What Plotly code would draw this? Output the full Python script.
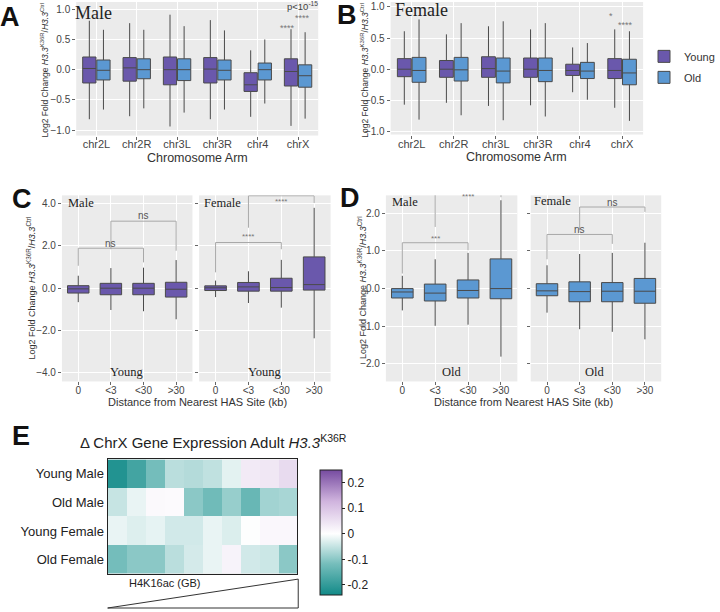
import plotly.graph_objects as go

# ---------------- DATA ----------------
chroms = ["chr2L", "chr2R", "chr3L", "chr3R", "chr4", "chrX"]

# Panel A (Male) box stats per chromosome arm
a_young_low = [-0.82, -0.77, -0.94, -0.82, -0.78, -0.93]
a_young_q1 = [-0.22, -0.19, -0.25, -0.22, -0.36, -0.27]
a_young_med = [0.02, 0.03, 0.00, 0.01, -0.25, -0.03]
a_young_q3 = [0.21, 0.20, 0.21, 0.20, -0.05, 0.18]
a_young_high = [0.81, 0.77, 0.91, 0.82, 0.32, 0.67]
a_old_low = [-0.66, -0.64, -0.71, -0.66, -0.56, -0.81]
a_old_q1 = [-0.17, -0.15, -0.18, -0.17, -0.17, -0.29]
a_old_med = [-0.01, 0.00, 0.00, -0.01, 0.00, -0.10]
a_old_q3 = [0.16, 0.18, 0.18, 0.16, 0.11, 0.08]
a_old_high = [0.66, 0.66, 0.72, 0.65, 0.50, 0.62]

# Panel B (Female)
b_young_low = [-0.57, -0.54, -0.59, -0.58, -0.37, -0.62]
b_young_q1 = [-0.12, -0.13, -0.13, -0.13, -0.10, -0.15]
b_young_med = [0.00, 0.00, 0.01, 0.00, -0.02, -0.02]
b_young_q3 = [0.17, 0.14, 0.20, 0.18, 0.08, 0.17]
b_young_high = [0.61, 0.56, 0.69, 0.64, 0.35, 0.64]
b_old_low = [-0.81, -0.74, -0.82, -0.76, -0.49, -0.83]
b_old_q1 = [-0.21, -0.19, -0.22, -0.20, -0.15, -0.25]
b_old_med = [-0.02, -0.01, -0.03, -0.02, -0.03, -0.06]
b_old_q3 = [0.19, 0.19, 0.18, 0.18, 0.11, 0.16]
b_old_high = [0.80, 0.74, 0.77, 0.74, 0.42, 0.61]

dist_cats = ["0", "<3", "<30", ">30"]

# Panel C (Young)
c_male_low = [-0.66, -1.03, -1.09, -1.47]
c_male_q1 = [-0.23, -0.31, -0.31, -0.42]
c_male_med = [-0.03, 0.00, 0.00, -0.05]
c_male_q3 = [0.12, 0.23, 0.23, 0.28]
c_male_high = [0.59, 0.95, 0.97, 1.33]
c_female_low = [-0.42, -0.70, -0.92, -2.37]
c_female_q1 = [-0.11, -0.14, -0.14, -0.09]
c_female_med = [0.02, 0.06, 0.03, 0.17]
c_female_q3 = [0.11, 0.27, 0.47, 1.48]
c_female_high = [0.36, 0.80, 1.34, 3.80]

# Panel D (Old)
d_male_low = [-0.58, -0.99, -0.96, -1.81]
d_male_q1 = [-0.25, -0.33, -0.25, -0.27]
d_male_med = [-0.09, -0.12, -0.05, 0.00]
d_male_q3 = [0.00, 0.12, 0.23, 0.79]
d_male_high = [0.34, 0.78, 0.95, 2.35]
d_female_low = [-0.64, -1.08, -1.15, -1.35]
d_female_q1 = [-0.19, -0.35, -0.35, -0.39]
d_female_med = [-0.06, -0.08, -0.07, -0.07]
d_female_q3 = [0.13, 0.18, 0.16, 0.27]
d_female_high = [0.62, 0.92, 0.95, 1.22]

# significance brackets: (left cat, right cat, left leg end, top, right leg end, label, label y)
c_male_brackets = [("0", "<30", 1.06, 1.89, 1.22, "ns", 2.12),
                   ("<3", ">30", 1.84, 3.17, 1.77, "ns", 3.42)]
c_female_brackets = [("0", "<30", 0.75, 2.16, 1.84, "****", 2.45),
                     ("<3", ">30", 2.86, 4.37, 4.03, "****", 4.12)]
d_male_brackets = [("0", "<30", 0.40, 1.22, 1.02, "***", 1.34),
                   ("<3", ">30", 1.64, 2.58, 2.43, "****", 2.46)]
d_female_brackets = [("0", "<30", 0.78, 1.44, 1.19, "ns", 1.57),
                     ("<3", ">30", 1.55, 2.17, 2.04, "ns", 2.30)]

# Panel E heatmap
heat_rows = ["Young Male", "Old Male", "Young Female", "Old Female"]
heat_bins = ["1", "2", "3", "4", "5", "6", "7", "8", "9", "10"]
heat_z = [
    [-0.22, -0.18, -0.12, -0.06, -0.065, -0.055, -0.025, 0.035, 0.04, 0.06],
    [-0.05, -0.02, 0.01, 0.008, -0.10, -0.125, -0.09, -0.135, -0.08, -0.075],
    [-0.02, -0.03, -0.022, -0.04, -0.04, -0.02, -0.032, -0.003, 0.012, 0.012],
    [-0.12, -0.10, -0.10, -0.06, -0.038, -0.02, 0.02, -0.04, -0.045, -0.10],
]
cbar_ticks = [-0.2, -0.1, 0, 0.1, 0.2]
cbar_ticktext = ["-0.2", "-0.1", "0", "0.1", "0.2"]

# ---------------- STYLE ----------------
FONT = "Liberation Sans, Arial, sans-serif"
SERIF = "Liberation Serif, Times New Roman, serif"
PURPLE = "#6A58AC"
BLUE = "#5B98D2"
BOX_LINE = "#4a4a4a"
PANEL_BG = "#EBEBEB"
W, H = 720, 612


def fx(p):
    return p / W


def fy(p):
    return 1 - p / H


fig = go.Figure()


def add_boxes(xs, low, q1, med, q3, high, color, name, xa, ya, showlegend):
    fig.add_trace(go.Box(
        x=xs, lowerfence=low, q1=q1, median=med, q3=q3, upperfence=high,
        name=name, fillcolor=color, marker=dict(color=color),
        line=dict(color=BOX_LINE, width=1), whiskerwidth=0, boxpoints=False,
        xaxis=xa, yaxis=ya, legendgroup=name, showlegend=showlegend,
        offsetgroup=name, hoverinfo="skip"))


add_boxes(chroms, a_young_low, a_young_q1, a_young_med, a_young_q3, a_young_high, PURPLE, "Young", "x", "y", True)
add_boxes(chroms, a_old_low, a_old_q1, a_old_med, a_old_q3, a_old_high, BLUE, "Old", "x", "y", True)
add_boxes(chroms, b_young_low, b_young_q1, b_young_med, b_young_q3, b_young_high, PURPLE, "Young", "x2", "y2", False)
add_boxes(chroms, b_old_low, b_old_q1, b_old_med, b_old_q3, b_old_high, BLUE, "Old", "x2", "y2", False)
add_boxes(dist_cats, c_male_low, c_male_q1, c_male_med, c_male_q3, c_male_high, PURPLE, "Young", "x3", "y3", False)
add_boxes(dist_cats, c_female_low, c_female_q1, c_female_med, c_female_q3, c_female_high, PURPLE, "Young", "x4", "y4", False)
add_boxes(dist_cats, d_male_low, d_male_q1, d_male_med, d_male_q3, d_male_high, BLUE, "Old", "x5", "y5", False)
add_boxes(dist_cats, d_female_low, d_female_q1, d_female_med, d_female_q3, d_female_high, BLUE, "Old", "x6", "y6", False)

annotations = []


def add_brackets(brackets, xa, ya):
    for (l, r, yl, yt, yr, lab, ly) in brackets:
        fig.add_trace(go.Scatter(
            x=[l, l, r, r], y=[yl, yt, yt, yr], mode="lines",
            line=dict(color="#a8a8a8", width=1), showlegend=False,
            hoverinfo="skip", cliponaxis=False, xaxis=xa, yaxis=ya))
        mid = (dist_cats.index(l) + dist_cats.index(r)) / 2
        annotations.append(dict(
            x=mid, y=ly, xref=xa, yref=ya, text=lab, showarrow=False,
            font=dict(family=FONT, size=10 if lab == "ns" else 8,
                      color="#555" if lab == "ns" else "#777"),
            yanchor="middle"))


add_brackets(c_male_brackets, "x3", "y3")
add_brackets(c_female_brackets, "x4", "y4")
add_brackets(d_male_brackets, "x5", "y5")
add_brackets(d_female_brackets, "x6", "y6")

colorscale = [[0.0, "rgb(18,138,136)"], [0.25, "rgb(118,190,188)"],
              [0.49, "rgb(255,255,255)"], [0.75, "rgb(208,180,222)"],
              [1.0, "rgb(118,75,160)"]]
fig.add_trace(go.Heatmap(
    z=heat_z, x=heat_bins, y=heat_rows, xaxis="x7", yaxis="y7",
    colorscale=colorscale, zmin=-0.24, zmax=0.248, xgap=0, ygap=0,
    hoverinfo="skip",
    colorbar=dict(x=fx(325), xanchor="left", y=fy(461.7), yanchor="top",
                  len=145 / H, lenmode="fraction", thickness=22,
                  outlinewidth=1, outlinecolor="#222",
                  tickvals=cbar_ticks, ticktext=cbar_ticktext,
                  ticks="outside", ticklen=3, tickcolor="#222",
                  tickfont=dict(family=FONT, size=12, color="#222"))))

axis_common = dict(showgrid=True, gridcolor="white", gridwidth=1, zeroline=False,
                   ticks="outside", ticklen=3, tickcolor="#666", showline=False,
                   tickfont=dict(family=FONT, size=10, color="#444"))


def xcat(domain, cats, anchor, size=11, standoff=-3):
    d = dict(axis_common)
    d.update(domain=domain, type="category", categoryorder="array",
             categoryarray=cats, anchor=anchor, range=[-0.5, len(cats) - 0.5],
             tickfont=dict(family=FONT, size=size, color="#444"),
             ticklabelstandoff=standoff)
    return d


def ynum(domain, rng, dtick, anchor, labels=True):
    d = dict(axis_common)
    d.update(domain=domain, range=rng, dtick=dtick, tickformat=".1f",
             anchor=anchor, showticklabels=labels)
    return d


yA = [fy(136), fy(2)]
yB = [fy(135), fy(2)]
yCD = [fy(382.7), fy(196)]

layout = dict(
    width=W, height=H, margin=dict(l=0, r=0, t=0, b=0),
    paper_bgcolor="white", plot_bgcolor=PANEL_BG,
    boxmode="group", boxgap=0.3, boxgroupgap=0.06,
    font=dict(family=FONT),
    xaxis=xcat([fx(80), fx(334)], chroms, "y", 11, -5),
    yaxis=ynum(yA, [-1.09, 1.12], 0.5, "x"),
    xaxis2=xcat([fx(410), fx(675)], chroms, "y2", 11, -4),
    yaxis2=ynum(yB, [-1.05, 1.08], 0.5, "x2"),
    xaxis3=xcat([fx(65), fx(202)], dist_cats, "y3", 10),
    yaxis3=ynum(yCD, [-4.41, 4.39], 2, "x3"),
    xaxis4=xcat([fx(209), fx(347)], dist_cats, "y4", 10),
    yaxis4=ynum(yCD, [-4.41, 4.39], 2, "x4", labels=False),
    xaxis5=xcat([fx(405), fx(543)], dist_cats, "y5", 10),
    yaxis5=ynum(yCD, [-2.47, 2.48], 1, "x5"),
    xaxis6=xcat([fx(557), fx(694)], dist_cats, "y6", 10),
    yaxis6=ynum(yCD, [-2.47, 2.48], 1, "x6", labels=False),
    xaxis7=dict(domain=[fx(113), fx(312)], anchor="y7", showticklabels=False,
                ticks="", showgrid=False, zeroline=False, showline=True,
                mirror=True, linecolor="#222", linewidth=1.2),
    yaxis7=dict(domain=[fy(575.7), fy(461)], anchor="x7", autorange="reversed",
                ticks="", showgrid=False, zeroline=False, showline=True,
                mirror=True, linecolor="#222", linewidth=1.2,
                tickfont=dict(family=FONT, size=13, color="#222")),
    legend=dict(x=fx(676), y=fy(42), xanchor="left", yanchor="top",
                font=dict(family=FONT, size=11, color="#333"),
                bgcolor="rgba(0,0,0,0)", tracegroupgap=2, itemwidth=30),
)

ytitle = "Log2 Fold Change <i>H3.3</i><sup>K36R</sup>/<i>H3.3</i><sup>Ctrl</sup>"


def pa(text, x, y, size, family=FONT, color="#333", xanchor="center",
       yanchor="middle", angle=0, bold=False):
    if bold:
        text = "<b>" + text + "</b>"
    annotations.append(dict(text=text, x=fx(x), y=fy(y), xref="paper", yref="paper",
                            showarrow=False, xanchor=xanchor, yanchor=yanchor,
                            textangle=angle, font=dict(family=family, size=size, color=color)))


# panel letters
pa("A", 11, 17, 27, color="#111", bold=True)
pa("B", 364, 15, 27, color="#111", bold=True)
pa("C", 23, 200, 27, color="#111", bold=True)
pa("D", 367, 199, 27, color="#111", bold=True)
pa("E", 22, 437, 27, color="#111", bold=True)

# y titles
pa(ytitle, 47, 70, 8.5, angle=-90)
pa(ytitle, 383, 70, 8.5, angle=-90)
pa(ytitle, 33, 289, 9, angle=-90)
pa(ytitle, 380, 289, 9, angle=-90)

# x titles
pa("Chromosome Arm", 207, 159, 12.5)
pa("Chromosome Arm", 542, 158, 12.5)
pa("Distance from Nearest HAS Site (kb)", 207, 403, 11)
pa("Distance from Nearest HAS Site (kb)", 549, 403, 11)

# serif facet labels
pa("Male", 77, 13, 18, family=SERIF, color="#222", xanchor="left")
pa("Female", 412, 10, 18, family=SERIF, color="#222", xanchor="left")
pa("Male", 69, 204, 12.5, family=SERIF, color="#222", xanchor="left")
pa("Female", 212, 204, 12.5, family=SERIF, color="#222", xanchor="left")
pa("Male", 409, 203, 12.5, family=SERIF, color="#222", xanchor="left")
pa("Female", 558, 202, 12.5, family=SERIF, color="#222", xanchor="left")
pa("Young", 133, 373, 12.5, family=SERIF, color="#222")
pa("Young", 278, 373, 12.5, family=SERIF, color="#222")
pa("Old", 474, 373, 12.5, family=SERIF, color="#222")
pa("Old", 625, 373, 12.5, family=SERIF, color="#222")

# significance in A and B
pa("p&lt;10<sup>-15</sup>", 317, 6, 9.5, color="#444")
pa("****", 318, 18, 9, color="#777")
pa("****", 302, 28, 9, color="#777")
pa("*", 641, 16, 9, color="#777")
pa("****", 656, 25, 9, color="#777")

# panel E text
pa("\u0394 ChrX Gene Expression Adult <i>H3.3</i><sup>K36R</sup>", 224, 443, 15, color="#222")
pa("H4K16ac (GB)", 173, 585, 11, color="#222")

layout["annotations"] = annotations
layout["shapes"] = [dict(type="path", xref="paper", yref="paper",
                         path="M {} {} L {} {} L {} {} Z".format(fx(113), fy(610), fx(313), fy(581), fx(313), fy(610)),
                         line=dict(color="#333", width=1), fillcolor="rgba(0,0,0,0)")]

fig.update_layout(**layout)
fig.write_html("out.html", config={"displayModeBar": False},
               post_script="document.body.style.margin='0';document.body.style.overflow='hidden';")
